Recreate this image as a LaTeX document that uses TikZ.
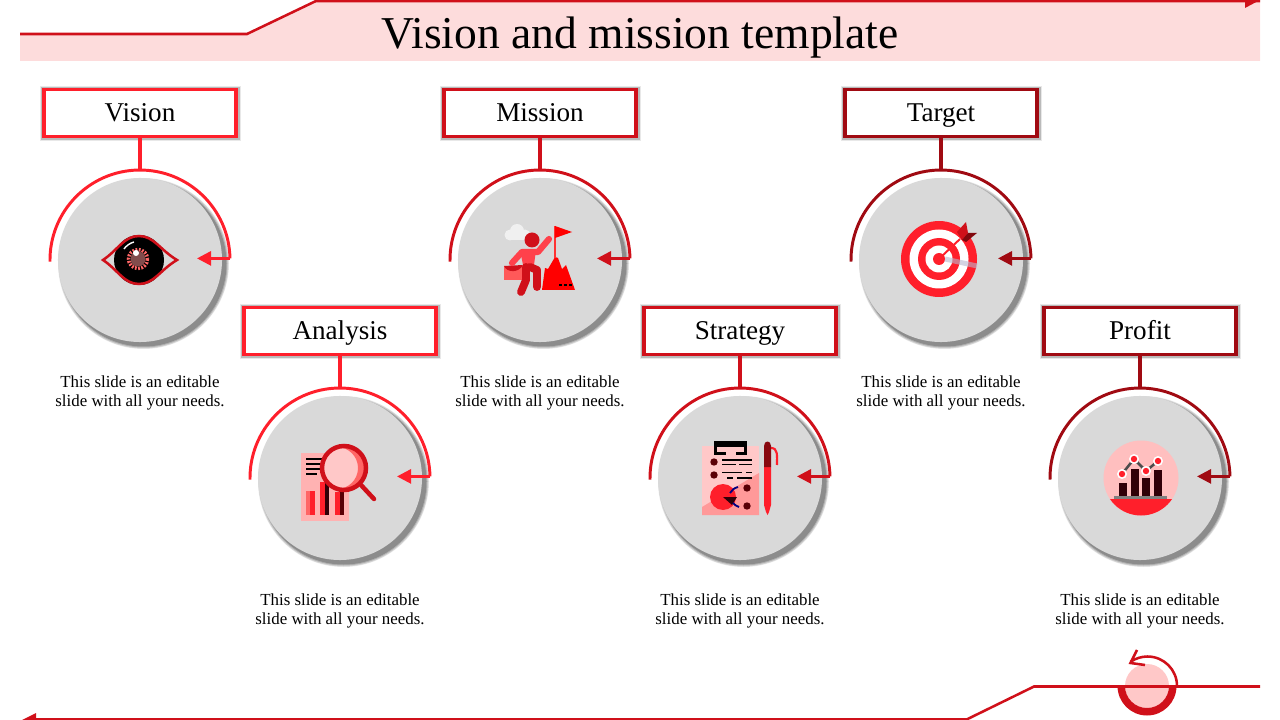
\documentclass[tikz,border=0pt]{standalone}
\usepackage{fontspec}
\setmainfont{Liberation Serif}
\usetikzlibrary{arrows.meta}
\definecolor{brightred}{HTML}{FF1F2B}
\definecolor{midred}{HTML}{D0101A}
\definecolor{darkred}{HTML}{A00A12}
\definecolor{bandpink}{HTML}{FDDCDC}
\definecolor{softpink}{HTML}{FFC8C8}
\definecolor{discgray}{HTML}{D9D9D9}
\definecolor{barmaroon}{HTML}{300008}
\begin{document}
\begin{tikzpicture}[x=0.025cm,y=-0.025cm,
    labelbox/.style={draw=#1,fill=white,line width=2.4pt,minimum width=4.8cm,minimum height=1.17cm,
      inner sep=0pt,text height=16pt,text depth=3.2pt,font=\fontsize{19.3}{22}\selectfont,
      preaction={draw=black,opacity=.09,line width=6.4pt,transform canvas={shift={(.4pt,-.4pt)}}},
      preaction={draw=black,opacity=.2,line width=4.4pt,transform canvas={shift={(.4pt,-.4pt)}}}},
    disc/.style={circle,fill=discgray,minimum size=4.1cm,inner sep=0pt},
    note/.style={align=center,font=\fontsize{12}{13.6}\selectfont},
    ring/.style={draw=#1,line width=2.1pt},
    pointer/.style={draw=#1,line width=1.9pt,-{Triangle[length=10pt,width=10pt]}},
    edge/.style={draw=midred,line width=1.8pt}]
  \useasboundingbox (0,0) rectangle (1280,720);
  \fill[bandpink] (20,34)--(247,34)--(316,0)--(1260,0)--(1260,61)--(20,61)--cycle;
  \coordinate (bandA) at (20,34);
  \coordinate (bandB) at (247,34);
  \coordinate (bandC) at (316,1);
  \coordinate (bandD) at (1260,1);
  \draw[edge] (bandA)--(bandB)--(bandC)--(bandD);
  \fill[midred] (1245,0)--(1260,0)--(1245,8)--cycle;
  \node[anchor=base] (title) at (640,49) {\fontsize{32.4}{36}\selectfont Vision and mission template};
  \foreach \name/\lab/\cx/\cy/\col in {vision/Vision/140/260/brightred,
      mission/Mission/540/260/midred,target/Target/941/260/darkred,
      analysis/Analysis/340/478/brightred,strategy/Strategy/740/478/midred,profit/Profit/1140/478/darkred}{
    \foreach \r/\o in {85.5/.08,85/.11,84/.16,83/.2}
      \fill[black,opacity=\o] (\cx+3.5,\cy+3.5) circle[radius=\r];
    \node[disc] (\name disc) at (\cx,\cy) {};
    \coordinate (\name top) at (\cx,\cy-90);
    \coordinate (\name end) at (\cx+90,\cy-1.6);
    \coordinate (\name tip) at (\cx+57,\cy-1.6);
    \draw[ring=\col] (\cx-90,\cy+1.6) arc (179:359:90);
    \node[labelbox=\col] (\name box) at (\cx,\cy-147) {\lab};
    \draw[draw=\col,line width=2.4pt] (\name box)--(\name top);
    \draw[pointer=\col] (\name end)--(\name tip);
    \node[note] (\name note) at (\cx,\cy+133) {This slide is an editable\\slide with all your needs.};
  }
  % eye
  \fill[black] (139,260) circle[radius=25];
  \draw[midred,line width=1.8pt] (103,260) .. controls (118,250) and (124,236) .. (139,236)
    .. controls (154,236) and (160,250) .. (177,260) .. controls (160,270) and (154,284) .. (139,284)
    .. controls (124,284) and (118,270) .. (103,260)--cycle;
  \draw[white,line width=1pt] (124,249) .. controls (126,246) and (130,243) .. (134,242);
  \draw[red!60!white,line width=2.5pt,dash pattern=on 1.3pt off 1pt] (138,259) circle[radius=9.5];
  \fill[black!70!red!70!white] (138,259) circle[radius=7.5];
  \fill[white] (136,253) circle[radius=3];
  % climber
  \foreach \a/\b/\r in {510/235/5.5,517/231/7,525/235/5.5}
    \fill[white!60!discgray] (\a,\b) circle[radius=\r];
  \fill[white!60!discgray] (510,235) rectangle (525,240.5);
  \fill[red] (542,290)--(545,268)--(548,269)--(555,257)--(558,258)--(562,269)--(566,265)--(575,290)--cycle;
  \foreach \a in {560,565,570} \fill[black] (\a-1.5,284) rectangle (\a+1.5,286);
  \draw[red!80!white,line width=.8pt] (555,226)--(555,258);
  \fill[red] (555,226)--(572,232)--(555,238)--cycle;
  \fill[midred] (532,240) circle[radius=7.5];
  \fill[red!65!white] (504,266) rectangle (523,280);
  \fill[midred] (504,266) .. controls (507,273) and (519,273) .. (523,265)--cycle;
  \draw[brightred!85!white,line width=4.4pt,line cap=round,line join=round] (512,263)--(522,252)--(538,252)--(549,239);
  \fill[brightred!85!white] (520,250)--(536,250)--(534,265)--(523,265)--cycle;
  \draw[midred,line width=5.6pt,line cap=round,line join=round] (526,267)--(526,280)--(521,292);
  \draw[midred,line width=5.6pt,line cap=round,line join=round] (530,267)--(537,270)--(537,287);
  % report
  \fill[red!30!white] (301,453) rectangle (349,521);
  \foreach \yb/\xe/\w in {459/323/2,464/322/1.2,469/320/1.2,474/317/1.2}
    \draw[black,line width=\w pt] (306,\yb)--(\xe,\yb);
  \fill[red!60!white] (306,491) rectangle (310,515);
  \fill[brightred] (310,491) rectangle (315,515);
  \fill[brightred] (320,482) rectangle (325,515);
  \fill[barmaroon] (325,482) rectangle (329,515);
  \fill[brightred] (335,492) rectangle (340,515);
  \fill[barmaroon!80!red] (340,492) rectangle (344,515);
  \draw[midred,line width=3.2pt,line cap=round] (361,485)--(374,499);
  \fill[softpink] (344,468) circle[radius=21];
  \begin{scope}
    \clip (344,468) circle[radius=21];
    \fill[red!60!white,even odd rule] (344,468) circle[radius=21] (337,468) circle[radius=21];
  \end{scope}
  \draw[midred,line width=3.2pt] (344,468) circle[radius=22];
  % plan
  \fill[softpink] (702,446) rectangle (759,515);
  \fill[red!40!white] (702,507)--(759,473)--(759,515)--(702,515)--cycle;
  \fill[black] (714,441) rectangle (747,455);
  \fill[softpink] (717,447) rectangle (744,452);
  \fill[softpink] (726,451) rectangle (736,456);
  \foreach \a/\b in {714/462,714/475,747/488,747/506}
    \fill[barmaroon!80!red] (\a,\b) circle[radius=3.7];
  \foreach \yb/\xs/\xe in {460/722/752,464.5/722/736,464.5/739/752,472.5/722/742,472.5/746/752,478/727/733,478/737/752}
    \draw[black,line width=1.2pt] (\xs,\yb)--(\xe,\yb);
  \fill[brightred] (723,497) circle[radius=13];
  \fill[barmaroon] (723,497)--(737,497)--(732,505)--cycle;
  \draw[blue!50!black,line width=1.3pt] (730,493) .. controls (732,490) and (734,488) .. (738,487);
  \draw[blue!50!black,line width=1.3pt] (733,503) .. controls (735,505) and (736,506) .. (739,507);
  \draw[brightred,line width=1.5pt] (771,448) .. controls (778,448) and (777,455) .. (777,465);
  \fill[brightred] (764,467)--(771,467)--(771,505)--(769,512)--(767.5,515)--(766,512)--(764,505)--cycle;
  \fill[darkred!85!black] (764,467)--(764,446) .. controls (764,440) and (771,440) .. (771,446)--(771,467)--cycle;
  % target
  \foreach \r/\c in {38/brightred,29.5/white,21/brightred,13.5/white,6/brightred}
    \fill[\c] (939,259) circle[radius=\r];
  \draw[black!40!blue!15!discgray,opacity=.6,line width=3.5pt] (945,259)--(977,266);
  \draw[brightred,line width=1.4pt] (941,257)--(960,239);
  \fill[midred] (957,232)--(966,222)--(968,233)--(962,240)--cycle;
  \fill[darkred!80!black] (968,233)--(977,233)--(966,242)--(962,240)--cycle;
  % chart
  \fill[red!25!white] (1141,478) circle[radius=37.5];
  \begin{scope}
    \clip (1141,478) circle[radius=37.5];
    \fill[brightred] (1100,499) rectangle (1180,520);
  \end{scope}
  \fill[black!50] (1114,496) rectangle (1167,499);
  \foreach \a/\b/\t in {1119/1127/483,1131/1139/469,1142/1150/478,1154/1162/470}
    \fill[barmaroon] (\a,\t) rectangle (\b,496);
  \draw[black!70,line width=1.8pt] (1122,474)--(1134,459)--(1146,471)--(1158,461);
  \foreach \a/\b in {1122/474,1134/459,1146/471,1158/461}{
    \fill[white] (\a,\b) circle[radius=5];
    \fill[brightred] (\a,\b) circle[radius=3.2];
  }
  % footer
  \coordinate (footA) at (1260,686.5);
  \coordinate (footB) at (1034,686.5);
  \coordinate (footC) at (967,719.3);
  \coordinate (footD) at (30,719.3);
  \fill[softpink] (1147,686) circle[radius=22];
  \fill[midred] (1117.5,686) arc (180:0:29.5)--(1169,686) arc (0:180:22)--cycle;
  \draw[edge] (footA)--(footB)--(footC)--(footD);
  \fill[midred] (22,720)--(36,713)--(36,720)--cycle;
  \draw[midred,line width=1.8pt] (1177,686) arc (0:-125:29.5);
  \draw[midred,line width=1.8pt] (1137,650)--(1130.5,663)--(1145,665);
\end{tikzpicture}
\end{document}
